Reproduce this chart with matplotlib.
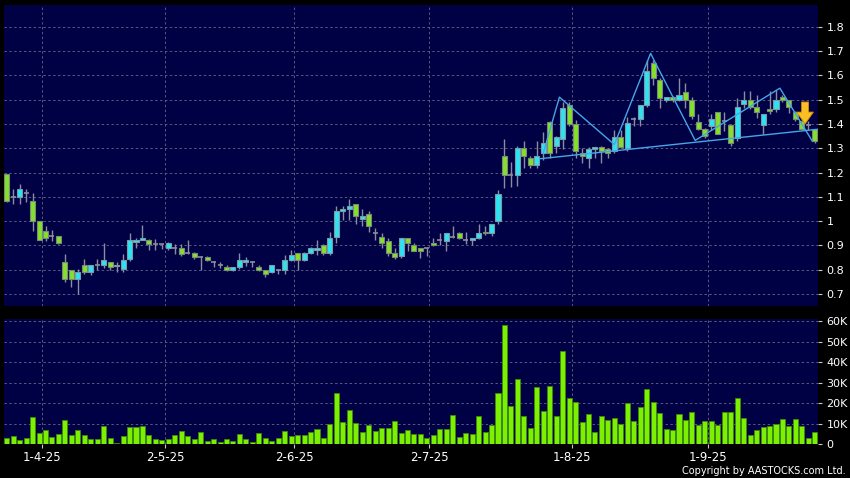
import matplotlib
matplotlib.use('Agg')
import matplotlib.pyplot as plt
import numpy as np

# daily OHLC (index = trading day)
opens = [
    1.193, 1.10, 1.10, 1.115, 1.081, 1.00, 0.961, 0.94, 0.939, 0.834,
    0.80, 0.764, 0.819, 0.791, 0.821, 0.821, 0.832, 0.815, 0.802, 0.843,
    0.913, 0.924, 0.924, 0.904, 0.904, 0.89, 0.89, 0.89, 0.87, 0.87,
    0.852, 0.852, 0.833, 0.82, 0.812, 0.80, 0.812, 0.833, 0.833, 0.812,
    0.80, 0.79, 0.80, 0.80, 0.84, 0.868, 0.84, 0.87, 0.882, 0.902,
    0.868, 0.936, 1.04, 1.049, 1.07, 1.008, 1.028, 0.95, 0.936, 0.92,
    0.868, 0.858, 0.93, 0.90, 0.888, 0.888, 0.91, 0.923, 0.92, 0.936,
    0.95, 0.923, 0.923, 0.93, 0.957, 0.95, 1.0, 1.268, 1.19, 1.19,
    1.30, 1.258, 1.23, 1.279, 1.407, 1.31, 1.337, 1.478, 1.398, 1.279,
    1.259, 1.297, 1.307, 1.297, 1.289, 1.348, 1.30, 1.419, 1.42, 1.478,
    1.65, 1.58, 1.50, 1.51, 1.50, 1.532, 1.50, 1.407, 1.38, 1.393,
    1.45, 1.41, 1.397, 1.34, 1.48, 1.497, 1.47, 1.397, 1.463, 1.463,
    1.51, 1.497, 1.45, 1.41, 1.397, 1.38]
closes = [
    1.081, 1.10, 1.134, 1.115, 1.002, 0.924, 0.93, 0.94, 0.912, 0.764,
    0.764, 0.791, 0.791, 0.819, 0.821, 0.842, 0.812, 0.82, 0.84, 0.923,
    0.924, 0.932, 0.904, 0.904, 0.904, 0.912, 0.89, 0.863, 0.87, 0.852,
    0.852, 0.84, 0.833, 0.82, 0.80, 0.81, 0.84, 0.84, 0.833, 0.80,
    0.783, 0.82, 0.80, 0.84, 0.861, 0.84, 0.87, 0.89, 0.89, 0.87,
    0.93, 1.042, 1.05, 1.061, 1.02, 1.022, 0.978, 0.95, 0.909, 0.868,
    0.851, 0.93, 0.909, 0.879, 0.879, 0.888, 0.90, 0.923, 0.95, 0.936,
    0.93, 0.923, 0.93, 0.95, 0.95, 0.99, 1.11, 1.19, 1.19, 1.30,
    1.268, 1.23, 1.268, 1.32, 1.279, 1.348, 1.467, 1.398, 1.289, 1.268,
    1.297, 1.307, 1.289, 1.279, 1.348, 1.307, 1.405, 1.419, 1.478, 1.618,
    1.588, 1.508, 1.51, 1.50, 1.518, 1.50, 1.432, 1.38, 1.35, 1.42,
    1.36, 1.41, 1.322, 1.47, 1.50, 1.468, 1.45, 1.44, 1.452, 1.497,
    1.50, 1.468, 1.42, 1.38, 1.397, 1.33]
highs = [
    1.195, 1.131, 1.152, 1.131, 1.114, 1.00, 0.98, 0.963, 0.94, 0.864,
    0.80, 0.802, 0.843, 0.82, 0.843, 0.912, 0.833, 0.83, 0.864, 0.953,
    0.93, 0.983, 0.925, 0.926, 0.906, 0.913, 0.904, 0.904, 0.924, 0.872,
    0.855, 0.856, 0.836, 0.83, 0.82, 0.812, 0.87, 0.853, 0.836, 0.82,
    0.80, 0.82, 0.805, 0.862, 0.883, 0.87, 0.875, 0.895, 0.924, 0.905,
    0.955, 1.063, 1.063, 1.09, 1.07, 1.05, 1.042, 0.97, 0.95, 0.93,
    0.888, 0.93, 0.93, 0.909, 0.89, 0.89, 0.93, 0.95, 0.95, 0.978,
    0.957, 0.957, 0.932, 0.99, 0.978, 0.99, 1.128, 1.337, 1.245, 1.31,
    1.33, 1.268, 1.33, 1.368, 1.41, 1.35, 1.492, 1.492, 1.416, 1.30,
    1.307, 1.307, 1.31, 1.30, 1.375, 1.375, 1.43, 1.43, 1.478, 1.663,
    1.663, 1.59, 1.51, 1.515, 1.589, 1.568, 1.51, 1.44, 1.385, 1.44,
    1.45, 1.45, 1.40, 1.507, 1.534, 1.534, 1.52, 1.44, 1.534, 1.54,
    1.52, 1.50, 1.455, 1.415, 1.41, 1.38]
lows = [
    1.08, 1.072, 1.072, 1.079, 0.96, 0.922, 0.92, 0.92, 0.905, 0.75,
    0.729, 0.70, 0.782, 0.78, 0.80, 0.809, 0.80, 0.79, 0.79, 0.836,
    0.89, 0.924, 0.882, 0.882, 0.885, 0.88, 0.863, 0.856, 0.863, 0.843,
    0.80, 0.836, 0.812, 0.808, 0.795, 0.795, 0.805, 0.817, 0.81, 0.795,
    0.771, 0.785, 0.783, 0.783, 0.835, 0.80, 0.838, 0.865, 0.861, 0.861,
    0.86, 0.909, 1.005, 1.005, 0.99, 0.978, 0.957, 0.923, 0.888, 0.857,
    0.845, 0.85, 0.879, 0.876, 0.85, 0.857, 0.898, 0.90, 0.879, 0.93,
    0.925, 0.906, 0.90, 0.925, 0.945, 0.94, 0.99, 1.138, 1.142, 1.146,
    1.218, 1.218, 1.22, 1.252, 1.259, 1.279, 1.296, 1.39, 1.259, 1.238,
    1.218, 1.259, 1.238, 1.259, 1.28, 1.30, 1.29, 1.39, 1.39, 1.47,
    1.56, 1.467, 1.49, 1.49, 1.495, 1.466, 1.42, 1.375, 1.342, 1.375,
    1.36, 1.37, 1.31, 1.33, 1.465, 1.46, 1.425, 1.36, 1.44, 1.45,
    1.49, 1.445, 1.41, 1.375, 1.375, 1.32]
# volume in thousands of shares
volumes = [
    3.1, 4.1, 2.1, 3.1, 13.3, 5.2, 6.7, 3.4, 4.9, 11.7,
    4.2, 7.0, 4.4, 2.6, 2.6, 8.6, 2.8, 0.6, 3.9, 8.3,
    8.3, 8.9, 4.2, 2.3, 1.8, 2.6, 4.2, 6.2, 4.1, 2.6,
    5.7, 1.5, 2.6, 1.1, 2.6, 1.3, 4.9, 2.3, 0.8, 5.4,
    3.1, 1.6, 3.1, 6.5, 4.1, 4.4, 4.4, 5.7, 7.3, 3.1,
    9.6, 24.7, 10.7, 16.6, 10.4, 6.0, 9.3, 6.2, 7.8, 8.0,
    11.2, 5.4, 7.0, 5.0, 5.0, 2.8, 4.4, 7.2, 7.2, 14.3,
    3.4, 5.2, 4.9, 13.5, 6.0, 9.1, 25.0, 57.9, 18.7, 31.5,
    13.7, 8.0, 27.6, 16.1, 28.3, 13.5, 45.2, 22.3, 20.3, 10.6,
    14.8, 6.0, 13.5, 11.7, 12.5, 9.8, 20.0, 11.4, 18.0, 26.8,
    20.5, 15.3, 7.2, 6.7, 14.5, 11.9, 15.8, 9.3, 11.2, 11.1,
    9.1, 15.6, 15.8, 22.3, 12.8, 4.6, 6.7, 8.1, 8.6, 9.8,
    12.0, 8.8, 12.2, 8.8, 3.1, 5.7]

date_pos = [5.5, 24.5, 44.5, 65.4, 87.5, 108.5]
date_labels = ['1-4-25', '2-5-25', '2-6-25', '2-7-25', '1-8-25', '1-9-25']
price_ticks = [0.7, 0.8, 0.9, 1.0, 1.1, 1.2, 1.3, 1.4, 1.5, 1.6, 1.7, 1.8]
price_labels = ['0.7', '0.8', '0.9', '1', '1.1', '1.2', '1.3', '1.4', '1.5', '1.6', '1.7', '1.8']
vol_ticks = [0, 10, 20, 30, 40, 50, 60]
vol_labels = ['0', '10K', '20K', '30K', '40K', '50K', '60K']

# head and shoulders drawing
zig_x = [83.0, 85.5, 94.0, 99.6, 106.5, 119.6, 124.6]
zig_y = [1.28, 1.51, 1.315, 1.69, 1.332, 1.547, 1.33]
neck_x = [82.6, 125.5]
neck_y = [1.257, 1.378]
arrow_x = 123.5
arrow_from, arrow_to = 1.49, 1.40

BG = '#000000'
PANEL = '#000044'
GRID = '#585880'
UP = '#2ee2f2'
DOWN = '#84e02a'
WICK = '#8c8ca0'
VOL = '#7cf000'

o = np.array(opens); c = np.array(closes)
h = np.array(highs); l = np.array(lows)
x = np.arange(len(o))

fig = plt.figure(figsize=(8.5, 4.78), dpi=100, facecolor=BG)
W, H = 850, 478
ax = fig.add_axes([4 / W, 1 - 306 / H, 814 / W, 301 / H], facecolor=PANEL)
axv = fig.add_axes([4 / W, 1 - 444 / H, 814 / W, 125 / H], facecolor=PANEL, sharex=ax)

for a in (ax, axv):
    for s in a.spines.values():
        s.set_visible(False)
    a.grid(True, color=GRID, linestyle=(0, (2.5, 2.5)), linewidth=0.7)
    a.set_axisbelow(True)
    a.yaxis.tick_right()
    a.tick_params(axis='y', colors='#c8c8c8', labelcolor='white', labelsize=8,
                  length=3, pad=3, width=0.8)

# candles
ax.vlines(x, l, h, color=WICK, linewidth=1.0, zorder=2)
doji = np.isclose(o, c)
up = (c > o) & ~doji
dn = (c < o) & ~doji
bw = 0.78
ax.bar(x[up], (c - o)[up], bottom=o[up], width=bw, color=UP,
       edgecolor='#7a9aa6', linewidth=0.8, zorder=3)
ax.bar(x[dn], (o - c)[dn], bottom=c[dn], width=bw, color=DOWN,
       edgecolor='#7a8a7a', linewidth=0.8, zorder=3)
ax.hlines(o[doji], x[doji] - bw / 2, x[doji] + bw / 2, color=WICK,
          linewidth=1.2, zorder=3)

ax.plot(zig_x, zig_y, color='#46a6e6', linewidth=1.0, zorder=4)
ax.plot(neck_x, neck_y, color='#46a6e6', linewidth=1.0, zorder=4)
ax.annotate('', xy=(arrow_x, arrow_to), xytext=(arrow_x, arrow_from),
            arrowprops=dict(arrowstyle='simple,head_width=1.2,head_length=0.85,tail_width=0.5',
                            fc='#f8c022', ec='#d88c00', lw=0.6, shrinkA=0, shrinkB=0),
            zorder=5)

ax.set_ylim(0.651, 1.889)
ax.set_yticks(price_ticks)
ax.set_yticklabels(price_labels)
ax.set_xlim(-0.42, 125.5)
ax.set_xticks(date_pos)
ax.tick_params(axis='x', bottom=False, labelbottom=False)

# volume
axv.bar(x, volumes, width=bw, color=VOL, edgecolor='#3c8a0c', linewidth=0.6, zorder=3)
axv.set_ylim(0, 61)
axv.set_yticks(vol_ticks)
axv.set_yticklabels(vol_labels)
axv.set_xticks(date_pos)
axv.set_xticklabels(date_labels)
axv.tick_params(axis='x', colors='#c8c8c8', labelcolor='white', labelsize=8.5,
                length=3, pad=2, width=0.8)

fig.text(846 / W, 1 - 471 / H, 'Copyright by AASTOCKS.com Ltd.', color='white',
         fontsize=7.0, ha='right', va='center')

fig.savefig('out.png', dpi=100, facecolor=BG)
